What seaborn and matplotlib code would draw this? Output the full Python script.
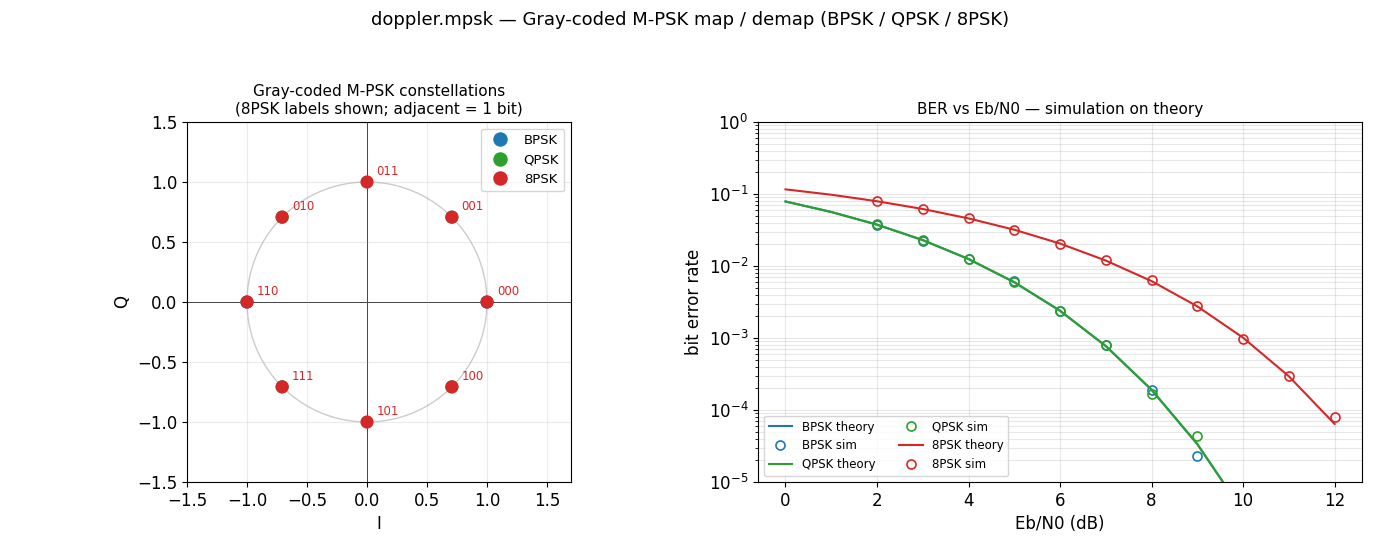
import numpy as np
import pandas as pd
import matplotlib
matplotlib.use('Agg')
import matplotlib.pyplot as plt
import seaborn as sns

# %% data
schemes = ['BPSK', 'QPSK', '8PSK']
colors = {'BPSK': '#1f77b4', 'QPSK': '#2ca02c', '8PSK': '#d62728'}

bpsk_i = [1.0, -1.0]
bpsk_q = [0.0, 0.0]
qpsk_i = [0.7071, -0.7071, -0.7071, 0.7071]
qpsk_q = [0.7071, 0.7071, -0.7071, -0.7071]
psk8_i = [1.0, 0.7071, 0.0, -0.7071, -1.0, -0.7071, 0.0, 0.7071]
psk8_q = [0.0, 0.7071, 1.0, 0.7071, 0.0, -0.7071, -1.0, -0.7071]
psk8_bits = ['000', '001', '011', '010', '110', '111', '101', '100']

ebn0_theory = [0, 1, 2, 3, 4, 5, 6, 7, 8, 9, 10, 11, 12]
ber_bpsk_theory = [7.87e-2, 5.63e-2, 3.75e-2, 2.29e-2, 1.25e-2, 5.95e-3, 2.39e-3,
                   7.73e-4, 1.91e-4, 3.36e-5, 3.87e-6, 2.61e-7, 9.0e-9]
ber_qpsk_theory = ber_bpsk_theory
ber_8psk_theory = [1.16e-1, 9.77e-2, 7.93e-2, 6.19e-2, 4.58e-2, 3.19e-2, 2.05e-2,
                   1.19e-2, 6.17e-3, 2.75e-3, 1.01e-3, 2.94e-4, 6.4e-5]

ebn0_bpsk_sim = [2, 3, 4, 5, 6, 7, 8, 9]
ber_bpsk_sim = [3.7e-2, 2.25e-2, 1.25e-2, 6.1e-3, 2.4e-3, 8.0e-4, 1.9e-4, 2.3e-5]
ebn0_qpsk_sim = [2, 3, 4, 5, 6, 7, 8, 9]
ber_qpsk_sim = [3.8e-2, 2.28e-2, 1.27e-2, 6.0e-3, 2.4e-3, 8.0e-4, 1.65e-4, 4.3e-5]
ebn0_8psk_sim = [2, 3, 4, 5, 6, 7, 8, 9, 10, 11, 12]
ber_8psk_sim = [8.1e-2, 6.2e-2, 4.6e-2, 3.2e-2, 2.05e-2, 1.2e-2, 6.3e-3, 2.8e-3,
                9.8e-4, 3.0e-4, 8.0e-5]

# %% figure
fig = plt.figure(figsize=(13.8, 5.52), dpi=100)
fig.suptitle('doppler.mpsk — Gray-coded M-PSK map / demap (BPSK / QPSK / 8PSK)',
             fontsize=13, y=0.98)
ax1 = fig.add_axes([0.1355, 0.1268, 0.2783, 0.6522])
ax2 = fig.add_axes([0.5493, 0.1268, 0.4377, 0.6522])

# %% constellation
theta = np.linspace(0, 2 * np.pi, 400)
ax1.plot(np.cos(theta), np.sin(theta), color='0.8', lw=1, zorder=1)
ax1.axhline(0, color='k', lw=0.6, zorder=1)
ax1.axvline(0, color='k', lw=0.6, zorder=1)
const = pd.concat([
    pd.DataFrame({'I': bpsk_i, 'Q': bpsk_q, 'scheme': 'BPSK'}),
    pd.DataFrame({'I': qpsk_i, 'Q': qpsk_q, 'scheme': 'QPSK'}),
    pd.DataFrame({'I': psk8_i, 'Q': psk8_q, 'scheme': '8PSK'}),
])
sns.scatterplot(data=const, x='I', y='Q', hue='scheme', palette=colors,
                s=90, edgecolor='none', ax=ax1, zorder=3)
for i, q, b in zip(psk8_i, psk8_q, psk8_bits):
    ax1.annotate(b, (i, q), xytext=(7, 5), textcoords='offset points',
                 color=colors['8PSK'], fontsize=8.5)
ax1.set_xlim(-1.5, 1.7)
ax1.set_ylim(-1.5, 1.5)
ax1.set_xticks(np.arange(-1.5, 1.51, 0.5))
ax1.set_yticks(np.arange(-1.5, 1.51, 0.5))
ax1.set_xlabel('I', fontsize=12)
ax1.set_ylabel('Q', fontsize=12)
ax1.tick_params(labelsize=12)
ax1.set_title('Gray-coded M-PSK constellations\n(8PSK labels shown; adjacent = 1 bit)',
              fontsize=11)
ax1.grid(True, alpha=0.25)
ax1.legend(loc='upper right', fontsize=9.5, title=None, markerscale=1.1)

# %% BER curves
series = [
    ('BPSK', ebn0_theory, ber_bpsk_theory, ebn0_bpsk_sim, ber_bpsk_sim),
    ('QPSK', ebn0_theory, ber_qpsk_theory, ebn0_qpsk_sim, ber_qpsk_sim),
    ('8PSK', ebn0_theory, ber_8psk_theory, ebn0_8psk_sim, ber_8psk_sim),
]
for name, xt, yt, xs, ys in series:
    c = colors[name]
    sns.lineplot(x=xt, y=yt, color=c, lw=1.5, ax=ax2, label=f'{name} theory')
    sns.lineplot(x=xs, y=ys, color=c, linestyle='none', marker='o',
                 markerfacecolor='none', markeredgecolor=c, markeredgewidth=1.2,
                 markersize=6.5, ax=ax2, label=f'{name} sim')
ax2.set_yscale('log')
ax2.set_ylim(1e-5, 1)
ax2.set_xlim(-0.6, 12.6)
ax2.set_xticks([0, 2, 4, 6, 8, 10, 12])
ax2.tick_params(labelsize=12)
ax2.grid(True, which='both', alpha=0.3)
ax2.set_xlabel('Eb/N0 (dB)', fontsize=12)
ax2.set_ylabel('bit error rate', fontsize=12)
ax2.set_title('BER vs Eb/N0 — simulation on theory', fontsize=11)
ax2.legend(loc='lower left', ncol=2, fontsize=8.5)

fig.savefig('out.png', dpi=100)
